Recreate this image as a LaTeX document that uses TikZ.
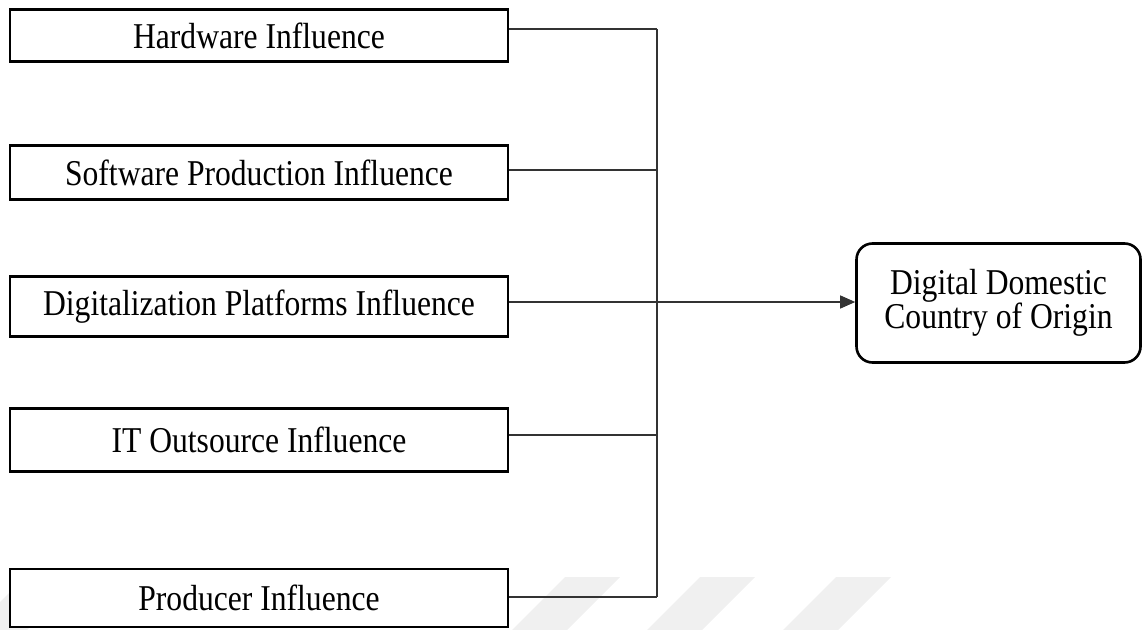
\documentclass[tikz,border=0pt]{standalone}
\usepackage{graphicx}
\usepackage{fontspec}
\setmainfont{Liberation Serif}
\usetikzlibrary{arrows.meta}
\newcommand\tallText[1]{\scalebox{1}[1.15]{#1}}
\begin{document}
\begin{tikzpicture}[x=0.5pt,y=-0.5pt,
    every node/.style={inner sep=0pt,font=\fontsize{15.8}{19}\selectfont},
    factor/.style={draw,fill=white,line width=1.3pt,minimum width=249pt},
    outcome/.style={draw,fill=white,rounded corners=8pt,line width=1.3pt,minimum width=142pt,minimum height=59.5pt,align=center},
    link/.style={draw=black!80,line width=0.6pt},
    arrow/.style={link,-{Triangle[length=7.5pt,width=6.5pt]}},
    mark stripe/.style={fill=black!6,draw=none}]
    \useasboundingbox (0,0) rectangle (1143,630);
    \def\mbusx{657} % bus line
    % watermark
    \foreach \mx in {25,565,700,836}
        \path[mark stripe] (\mx,577) -- ++(55,0) -- ++(-53,53) -- ++(-55,0) -- cycle;
    % influences
    \foreach \i/\cy/\mh/\ly/\mname in {1/35.5/26/29/Hardware Influence,
                                       2/172.5/27/170/Software Production Influence,
                                       3/306.5/30/302/Digitalization Platforms Influence,
                                       4/440/31.5/435/IT Outsource Influence,
                                       5/598/29/597/Producer Influence}{
        \node[factor,minimum height=\mh pt] (f\i) at (259,\cy) {\tallText{\mname}};
        \coordinate (j\i) at (\mbusx,\ly);
        \draw[link] (f\i.east |- j\i) -- (j\i);
    }
    \draw[link] (j1) -- (j5);
    % outcome
    \node[outcome] (dcoo) at (998.5,303) {\tallText{Digital Domestic}\\[-2pt]\tallText{Country of Origin}};
    \draw[arrow] (j3) -- (j3 -| dcoo.west);
\end{tikzpicture}
\end{document}
